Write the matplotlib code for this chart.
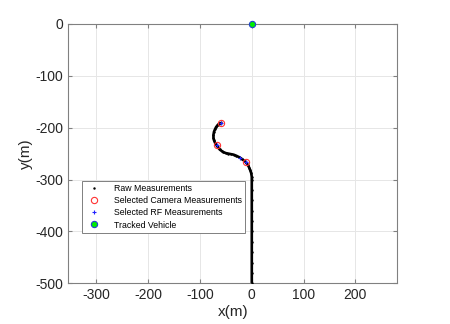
import matplotlib
matplotlib.use("Agg")
import matplotlib.pyplot as plt

plt.rcParams['font.family'] = ['Liberation Sans', 'DejaVu Sans']
plt.rcParams['axes.unicode_minus'] = False

# Trajectory (raw measurements) waypoints
raw_x = [-59, -63, -66, -69, -71, -73, -74, -74, -73, -71, -68, -65, -62, -58, -55, -50, -45, -40, -35,
         -30, -24, -18, -12, -8, -5, -3, -1, 0, 0, 0, 0, 0, 0, 0, 0, 0, 0, 0, 0]
raw_y = [-191, -192, -195, -199, -203, -208, -214, -219, -224, -229, -234, -238, -242, -245, -247, -249,
         -250, -251, -252, -254, -257, -261, -266, -271, -277, -282, -288, -295, -300, -320, -340, -360,
         -380, -400, -420, -440, -460, -480, -500]

cam_x = [-59, -68, -12]
cam_y = [-191, -234, -266]

rf_x = [-59, -68, -22, -12]
rf_y = [-191, -234, -258, -266]

veh_x = [0]
veh_y = [0]

fig = plt.figure(figsize=(4.5, 3.24), dpi=100)
ax = fig.add_axes([0.152, 0.1256, 0.731, 0.8004])

ax.plot(raw_x, raw_y, '-', color='black', lw=1.9, zorder=2)
ax.plot(raw_x, raw_y, '.', color='black', ms=1.5, label='Raw Measurements', zorder=3)
ax.plot(cam_x, cam_y, 'o', mfc='none', mec='#ff3333', ms=4.5, mew=0.8, label='Selected Camera Measurements', zorder=4)
ax.plot(rf_x, rf_y, '+', color='#2222ff', ms=3.5, mew=0.8, label='Selected RF Measurements', zorder=5)
ax.plot(veh_x, veh_y, 'o', mfc='#00ee00', mec='#2244cc', ms=4.5, mew=0.8, label='Tracked Vehicle', zorder=6, clip_on=False)

ax.set_xlim(-354, 281)
ax.set_ylim(-500, 0)
ax.set_xticks([-300, -200, -100, 0, 100, 200])
ax.set_yticks([-500, -400, -300, -200, -100, 0])
ax.grid(True, color='#e6e6e6', lw=0.7)
ax.set_axisbelow(True)
for s in ax.spines.values():
    s.set_color('#808080')
    s.set_linewidth(0.8)
ax.tick_params(direction='in', length=3, color='#808080', labelsize=10, labelcolor='#262626',
               top=True, right=True)
ax.set_xlabel('x(m)', fontsize=11, color='#262626', labelpad=2)
ax.set_ylabel('y(m)', fontsize=11, color='#262626', labelpad=2)

leg = ax.legend(loc='upper left', bbox_to_anchor=(0.042, 0.395), borderaxespad=0, fontsize=6.3, frameon=True,
                fancybox=False, edgecolor='#808080', borderpad=0.4, labelspacing=0.35,
                handlelength=2.0, handletextpad=1.2, framealpha=1)
leg.get_frame().set_linewidth(0.7)

fig.savefig('out.png', dpi=100)
